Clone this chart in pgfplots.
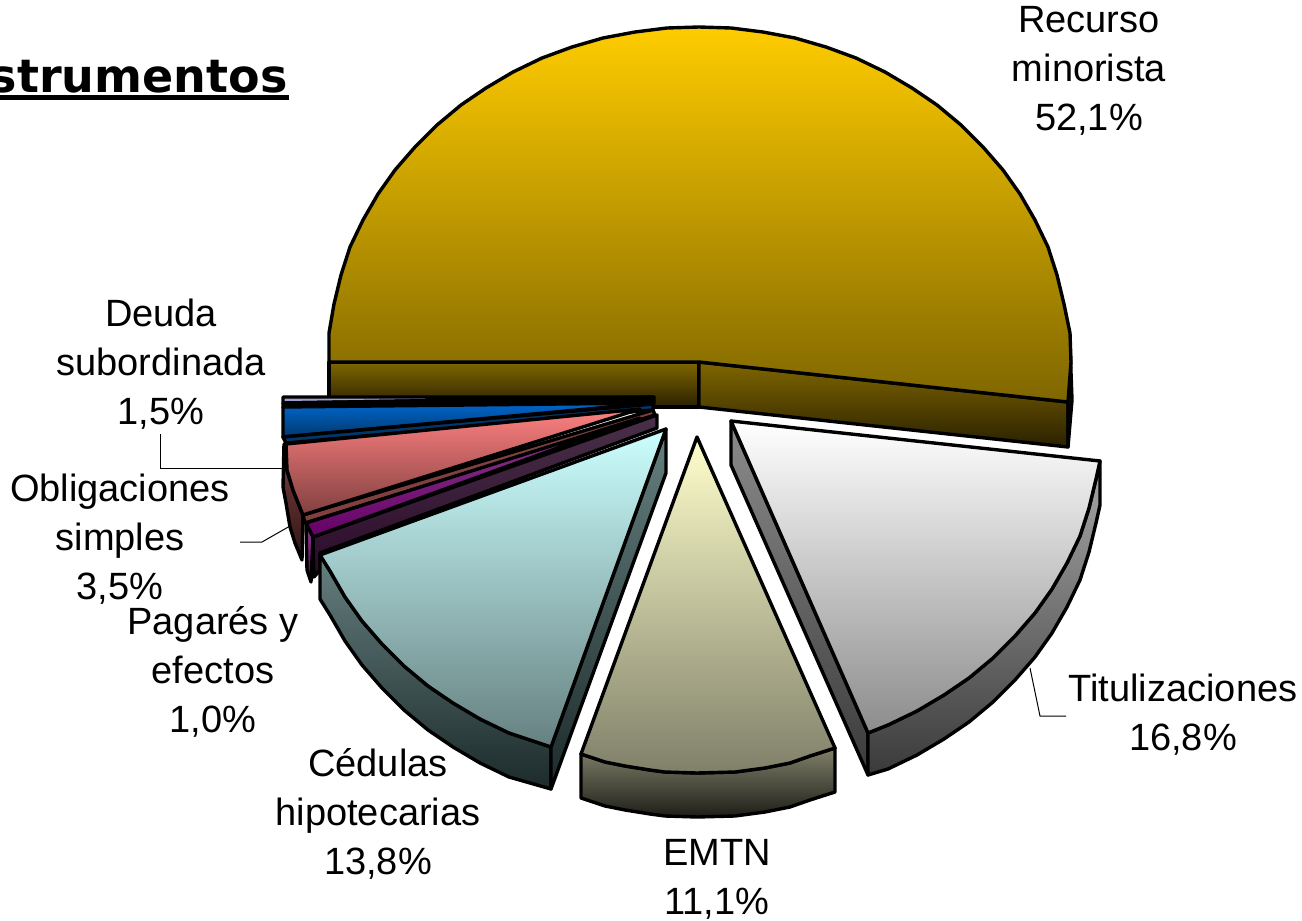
\documentclass[border=0pt]{standalone}
\usepackage{pgfplots}
\pgfplotsset{compat=1.18}
\usepackage{fontspec}
\setmainfont{Liberation Sans}
\newfontfamily\titlefont{DejaVu Sans}
\definecolor{yA}{HTML}{FFCC00}\definecolor{yB}{HTML}{7F6600}\definecolor{yC}{HTML}{2A2000}
\definecolor{wB}{HTML}{8C8C8C}\definecolor{wS}{HTML}{A8A8A8}\definecolor{wD}{HTML}{3A3A3A}
\definecolor{eA}{HTML}{FFFFCC}\definecolor{eB}{HTML}{80806A}\definecolor{eC}{HTML}{1E1E18}
\definecolor{cA}{HTML}{CCFFFF}\definecolor{cB}{HTML}{668080}\definecolor{cC}{HTML}{1C2A2A}
\definecolor{pA}{HTML}{FF8080}\definecolor{pB}{HTML}{804040}\definecolor{pC}{HTML}{2E1414}
\definecolor{uA}{HTML}{8E3C92}\definecolor{uB}{HTML}{660066}\definecolor{uC}{HTML}{4A3048}\definecolor{uD}{HTML}{2A0A2A}
\definecolor{bA}{HTML}{0066CC}\definecolor{bB}{HTML}{00386E}
\definecolor{lA}{HTML}{A0A0D0}
\tikzset{pc/.style 2 args={draw=black,line width=1.7pt,line join=round,top color=#1,bottom color=#2}}
\begin{document}
\begin{tikzpicture}
\useasboundingbox (0,0) rectangle (651pt,460.5pt);
\begin{axis}[at={(0,0)},anchor=south west,scale only axis,width=651pt,height=460.5pt,
  xmin=0,xmax=1302,ymin=0,ymax=921,y dir=reverse,hide axis,clip=false]
% Recurso minorista: sides
\addplot[pc={yB}{yC}] coordinates {(329,362)(699,362)(699,407)(329,407)} --cycle;
\addplot[pc={yB}{yC}] coordinates {(699,362)(1068,402)(1068,447)(699,407)} --cycle;
\addplot[pc={yB}{yC}] coordinates {(1070,345)(1072,400)(1068,447)(1068,402)} --cycle;
% Recurso minorista: face
\addplot[pc={yA}{yB}] coordinates {(699,362)(329,362)(329,333)(334,304)(341,275)(350,247)(363,220)(378,194)(395,170)(415,147)(437,125)(461,105)(486,88)(513,72)(542,58)(572,47)(603,38)(635,32)(667,28)(699,27)(731,28)(763,32)(795,38)(826,47)(856,58)(885,72)(912,88)(937,105)(961,125)(983,147)(1003,170)(1020,194)(1035,220)(1048,247)(1057,275)(1064,304)(1070,333)(1071,362)(1068,402)} --cycle;
% Deuda subordinada
\addplot[pc={lA}{lA}] coordinates {(283,397)(654,397)(283,403)} --cycle;
\addplot[pc={black}{black}] coordinates {(283,403)(654,397)(654,404)(283,407)} --cycle;
% Obligaciones (blue)
\addplot[pc={bA}{bB}] coordinates {(283,407)(653,403)(283,437)} --cycle;
\addplot[pc={bB}{bB}] coordinates {(283,437)(653,404)(653,410)(286,443)} --cycle;
% Pink: outer side, inner side, face
\addplot[pc={pB}{pC}] coordinates {(284,444)(283,487)(286,503)(290,527)(295,543)(302,560)(303,515)(293,490)(287,470)} --cycle;
\addplot[pc={pB}{pB}] coordinates {(303,515)(653,410)(655,415)(305,523)} --cycle;
\addplot[pc={pA}{pB}] coordinates {(286,444)(640,409)(303,515)(293,490)(287,470)} --cycle;
% Purple: outer, face, inner side
\addplot[pc={uA}{uB}] coordinates {(306,523)(307,570)(311,582)(313,537)} --cycle;
\addplot[pc={uC}{uD}] coordinates {(313,537)(657,415)(657,428)(320,553)(320,570)(314,577)} --cycle;
\addplot[pc={uA}{uB}] coordinates {(306,523)(640,418)(313,537)} --cycle;
% Cedulas hipotecarias
\addplot[pc={cB}{cC}] coordinates {(320,555)(330,571)(345,597)(362,621)(382,644)(404,666)(428,686)(453,703)(480,719)(509,733)(551,747)(551,789)(509,777)(480,763)(453,747)(428,730)(404,710)(382,688)(362,665)(345,641)(330,615)(320,599)} --cycle;
\addplot[pc={cB}{cC}] coordinates {(666,429)(666,473)(551,789)(551,747)} --cycle;
\addplot[pc={cA}{cB}] coordinates {(666,429)(320,555)(330,571)(345,597)(362,621)(382,644)(404,666)(428,686)(453,703)(480,719)(509,733)(551,747)} --cycle;
% EMTN
\addplot[pc={eB}{eC}] coordinates {(835,748)(810,756)(790,763)(765,768)(735,772)(697,773)(665,772)(650,770)(625,766)(605,762)(581,754)(581,798)(605,806)(625,810)(650,814)(665,816)(697,817)(735,816)(765,812)(790,807)(810,800)(835,792)} --cycle;
\addplot[pc={eA}{eB}] coordinates {(697,437)(835,748)(810,756)(790,763)(765,768)(735,772)(697,773)(665,772)(650,770)(625,766)(605,762)(581,754)} --cycle;
% Titulizaciones
\addplot[pc={wB}{wD}] coordinates {(731,421)(868,733)(868,775)(731,465)} --cycle;
\addplot[pc={wS}{wD}] coordinates {(1100,461)(1096,479)(1089,508)(1080,536)(1067,563)(1052,589)(1035,613)(1015,636)(993,658)(969,678)(944,695)(917,711)(888,725)(868,733)(868,775)(888,769)(917,755)(944,739)(969,722)(993,702)(1015,680)(1035,657)(1052,633)(1067,607)(1080,580)(1089,552)(1096,523)(1100,505)} --cycle;
\addplot[pc={white}{wB}] coordinates {(731,421)(1100,461)(1096,479)(1089,508)(1080,536)(1067,563)(1052,589)(1035,613)(1015,636)(993,658)(969,678)(944,695)(917,711)(888,725)(868,733)} --cycle;
% Leader lines
\addplot[black,line width=0.5pt] coordinates {(160,434)(160,468)(283,468)};
\addplot[black,line width=0.5pt] coordinates {(240,542)(262,542)(290,526)};
\addplot[black,line width=0.5pt] coordinates {(1030,668)(1040,716)(1066,716)};
% Title underline
\addplot[black,line width=2.5pt] coordinates {(0,97.5)(289,97.5)};
% Labels
\tikzset{lb/.style={align=center,inner sep=0pt,font=\fontsize{19}{24.5}\selectfont}}
\node[lb] at (axis cs:1089,71) {Recurso\\minorista\\52,1\%};
\node[lb] at (axis cs:161,364) {Deuda\\subordinada\\1,5\%};
\node[lb] at (axis cs:120,539) {Obligaciones\\simples\\3,5\%};
\node[lb] at (axis cs:213,672) {Pagarés y\\efectos\\1,0\%};
\node[lb] at (axis cs:378,814) {Cédulas\\hipotecarias\\13,8\%};
\node[lb] at (axis cs:717,879) {EMTN\\11,1\%};
\node[lb] at (axis cs:1183,715) {Titulizaciones\\16,8\%};
\node[anchor=base east,inner sep=0pt,font=\titlefont\bfseries\fontsize{23}{26}\selectfont] at (axis cs:288,92) {strumentos};
\end{axis}
\end{tikzpicture}
\end{document}
